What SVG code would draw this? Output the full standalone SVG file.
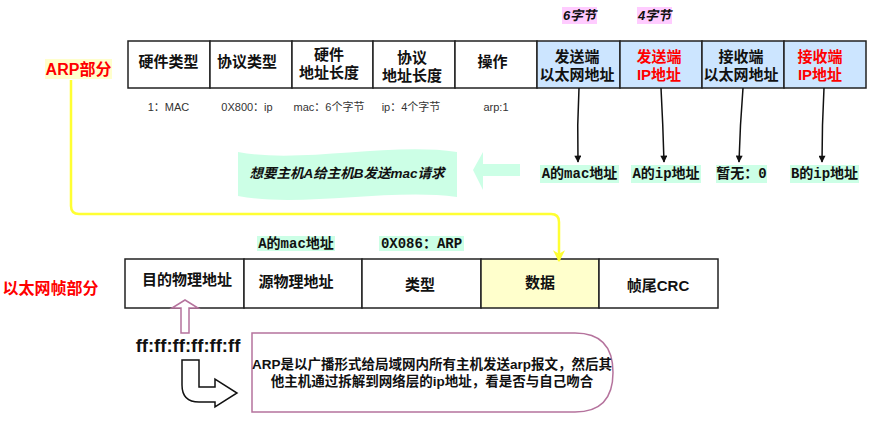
<svg xmlns="http://www.w3.org/2000/svg" width="884" height="430" viewBox="0 0 884 430">
<defs>
<style>
.cell{stroke:#222;stroke-width:1.5;fill:#fff}
.blue{fill:#cce5ff}
.hd{font-family:"Liberation Sans","Noto Sans CJK SC",sans-serif;font-size:15px;font-weight:bold;fill:#111;text-anchor:middle}
.red{fill:#ff0000}
.sub{font-family:"Liberation Sans","Noto Sans CJK SC",sans-serif;font-size:11px;fill:#333;text-anchor:middle}
.mono{font-family:"Liberation Mono","Noto Sans CJK SC",monospace;font-size:14px;font-weight:bold;fill:#111;text-anchor:middle}
.mint{fill:#ccffe6}
.sec{font-family:"Liberation Sans","Noto Sans CJK SC",sans-serif;font-size:16px;font-weight:bold;fill:#ff0000;text-anchor:middle}
.byte{font-family:"Liberation Sans","Noto Sans CJK SC",sans-serif;font-size:13px;font-weight:bold;font-style:italic;fill:#111;text-anchor:middle}
.para{font-family:"Liberation Sans","Noto Sans CJK SC",sans-serif;font-size:13.5px;font-weight:bold;fill:#111;text-anchor:middle}
.blk{fill:none;stroke:#111;stroke-width:1.5}
</style>
<marker id="ah" viewBox="0 0 10 10" refX="9" refY="5" markerWidth="8" markerHeight="7" orient="auto" markerUnits="userSpaceOnUse">
<path d="M0,0 L10,5 L0,10 Z" fill="#111"/>
</marker>
<marker id="ahy" viewBox="0 0 10 10" refX="9" refY="5" markerWidth="12" markerHeight="13" orient="auto" markerUnits="userSpaceOnUse">
<path d="M0,0 L10,5 L0,10 L3,5 Z" fill="#ffff33"/>
</marker>
</defs>
<rect width="884" height="430" fill="#fff"/>

<g id="byte-labels">
<rect x="562" y="7" width="35" height="17" fill="#ffccff"/>
<text class="byte" x="579.5" y="20">6字节</text>
<rect x="637" y="7" width="35" height="17" fill="#ffccff"/>
<text class="byte" x="654.5" y="20">4字节</text>
</g>

<g id="arp-label">
<rect x="45" y="59" width="67" height="20" fill="#ffffcc"/>
<text class="sec" x="78.5" y="75">ARP部分</text>
</g>

<g id="arp-table">
<rect class="cell" x="128" y="41" width="82" height="47"/>
<rect class="cell" x="210" y="41" width="82" height="47"/>
<rect class="cell" x="292" y="41" width="81" height="47"/>
<rect class="cell" x="373" y="41" width="82" height="47"/>
<rect class="cell" x="455" y="41" width="82" height="47"/>
<rect class="cell blue" x="537" y="41" width="83" height="47"/>
<rect class="cell blue" x="620" y="41" width="82" height="47"/>
<rect class="cell blue" x="702" y="41" width="82" height="47"/>
<rect class="cell blue" x="784" y="41" width="82" height="47"/>
<text class="hd" x="168.5" y="67">硬件类型</text>
<text class="hd" x="247" y="67">协议类型</text>
<text class="hd" x="329" y="60">硬件</text>
<text class="hd" x="329" y="78">地址长度</text>
<text class="hd" x="412" y="63">协议</text>
<text class="hd" x="412" y="81">地址长度</text>
<text class="hd" x="492.5" y="67">操作</text>
<text class="hd" x="577" y="62">发送端</text>
<text class="hd" x="577" y="80">以太网地址</text>
<text class="hd red" x="659" y="62">发送端</text>
<text class="hd red" x="659" y="80">IP地址</text>
<text class="hd" x="741" y="62">接收端</text>
<text class="hd" x="741" y="80">以太网地址</text>
<text class="hd red" x="820" y="62">接收端</text>
<text class="hd red" x="820" y="80">IP地址</text>
</g>

<g id="arp-sub">
<text class="sub" x="168.5" y="111">1：MAC</text>
<text class="sub" x="247" y="111">0X800：ip</text>
<text class="sub" x="329" y="111">mac：6个字节</text>
<text class="sub" x="411" y="111">ip：4个字节</text>
<text class="sub" x="496" y="111">arp:1</text>
</g>

<g id="value-labels">
<rect class="mint" x="540" y="165" width="79" height="18"/>
<text class="mono" x="579.5" y="178">A的mac地址</text>
<rect class="mint" x="631" y="165" width="70" height="18"/>
<text class="mono" x="666" y="178">A的ip地址</text>
<rect class="mint" x="716" y="165" width="51" height="18"/>
<text class="mono" x="741.5" y="178">暂无：0</text>
<rect class="mint" x="790" y="165" width="69" height="18"/>
<text class="mono" x="824.5" y="178">B的ip地址</text>
</g>

<g id="request-banner">
<path d="M238,152 C300,164 390,142 457,152 L457,197 C390,188 300,208 238,196 Z" fill="#ccffe6"/>
<text class="para" x="347" y="178" style="font-style:italic">想要主机A给主机B发送mac请求</text>
</g>

<g id="big-arrow">
<polygon points="473,170 483,152 483,164 520,164 520,176 483,176 483,190" fill="#ccffe6"/>
</g>

<g id="frame-labels">
<rect class="mint" x="257" y="236" width="78" height="15"/>
<text class="mono" x="296" y="248">A的mac地址</text>
<rect class="mint" x="379" y="236" width="85" height="15"/>
<text class="mono" x="421.5" y="248">0X086：ARP</text>
</g>

<g id="eth-label">
<text class="sec" x="50.5" y="294">以太网帧部分</text>
</g>

<g id="eth-table">
<rect class="cell" x="125" y="259" width="119" height="49"/>
<rect class="cell" x="244" y="259" width="118" height="49"/>
<rect class="cell" x="362" y="259" width="119" height="49"/>
<rect class="cell" x="481" y="259" width="118" height="49" style="fill:#ffffcc"/>
<rect class="cell" x="599" y="259" width="119" height="49"/>
<text class="hd" x="187" y="285">目的物理地址</text>
<text class="hd" x="296" y="287">源物理地址</text>
<text class="hd" x="420" y="290">类型</text>
<text class="hd" x="540" y="288">数据</text>
<text class="hd" x="658" y="291">帧尾CRC</text>
</g>

<g id="ff-label">
<text x="188" y="352" style="font-family:'Liberation Sans',sans-serif;font-size:18.5px;font-weight:bold;fill:#111;text-anchor:middle">ff:ff:ff:ff:ff:ff</text>
</g>

<g id="up-arrow">
<polygon points="185,300 198,308 189,308 189,333 181,333 181,308 172,308" fill="#fff" stroke="#b5739d" stroke-width="1.5"/>
</g>

<g id="bent-arrow">
<path d="M182,360 L199,360 L199,387 L215,387 L215,379 L237,393 L215,407 L215,402 L199,402 Q182,402 182,385 Z" fill="#fff" stroke="#111" stroke-width="1.5"/>
</g>

<g id="note">
<path d="M252,333 H575 Q613,333 613,372.5 Q613,412 575,412 H252 Z" fill="#fff" stroke="#b5739d" stroke-width="1.5"/>
<text class="para" x="432" y="369">ARP是以广播形式给局域网内所有主机发送arp报文，然后其</text>
<text class="para" x="432" y="386">他主机通过拆解到网络层的ip地址，看是否与自己吻合</text>
</g>

<g id="connectors">
<path d="M579,88 Q577,125 578,162" class="blk" marker-end="url(#ah)"/>
<path d="M661,88 Q663,125 664,162" class="blk" marker-end="url(#ah)"/>
<path d="M743,88 Q740,125 739,162" class="blk" marker-end="url(#ah)"/>
<path d="M824,88 Q822,125 822,162" class="blk" marker-end="url(#ah)"/>
<path d="M71,80 V206 Q71,214 79,214 H551 Q559,214 559,222 V261" fill="none" stroke="#ffff33" stroke-width="2.5" marker-end="url(#ahy)"/>
</g>
</svg>
